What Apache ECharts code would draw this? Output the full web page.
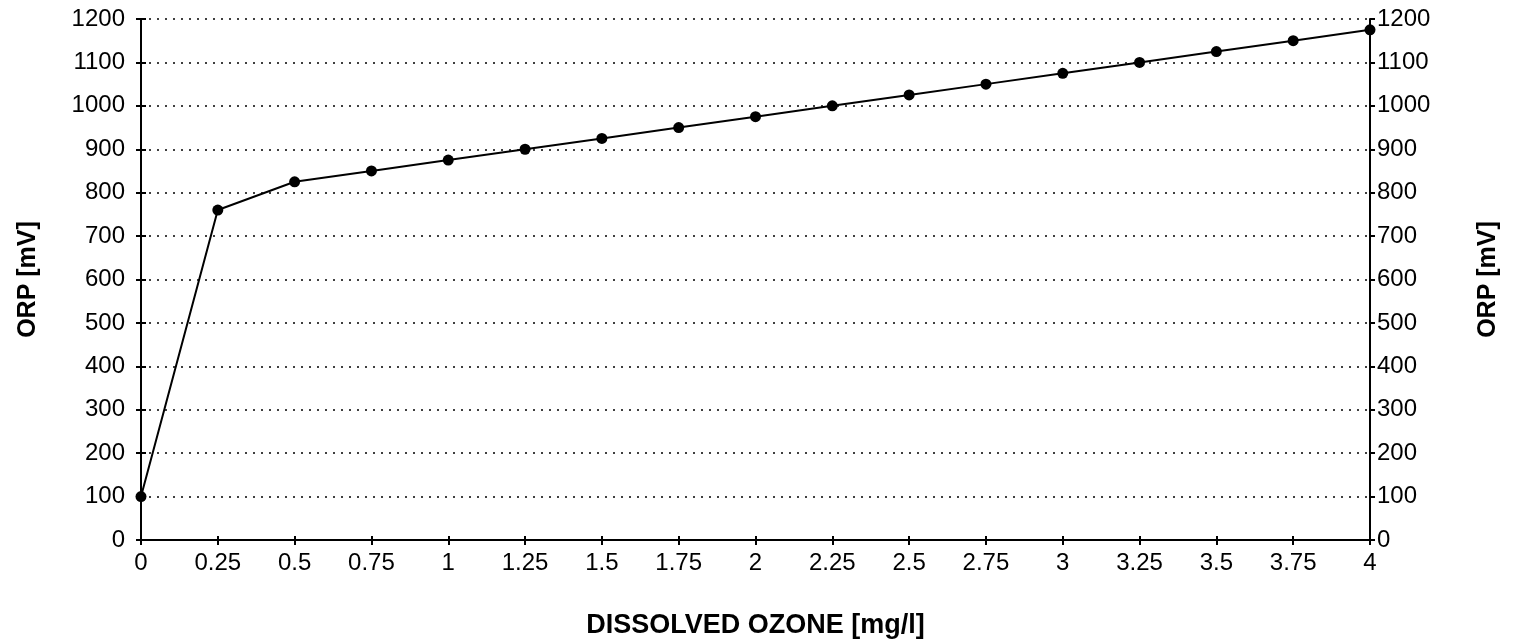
<!DOCTYPE html>
<html>
<head>
<meta charset="utf-8">
<script src="https://cdn.jsdelivr.net/npm/echarts@6/dist/echarts.min.js"></script>
<style>
  html, body { margin: 0; padding: 0; background: #fff; }
  #chart { width: 1520px; height: 640px; }
</style>
</head>
<body>
<div id="chart"></div>
<script>
// Dissolved ozone concentration (mg/l) against oxidation-reduction potential (mV)
const ozone = [0, 0.25, 0.5, 0.75, 1, 1.25, 1.5, 1.75, 2, 2.25, 2.5, 2.75, 3, 3.25, 3.5, 3.75, 4];
const orp = [100, 760, 825, 850, 875, 900, 925, 950, 975, 1000, 1025, 1050, 1075, 1100, 1125, 1150, 1175];
const xName = 'DISSOLVED OZONE [mg/l]';
const yName = 'ORP [mV]';

const points = ozone.map((x, i) => [x, orp[i]]);

const plain = v => String(v);
const tickFont = { fontFamily: 'Liberation Sans, Arial, sans-serif', fontSize: 24, color: '#000', formatter: plain };
const nameFont = { fontFamily: 'Liberation Sans, Arial, sans-serif', fontSize: 25, fontWeight: 'bold', color: '#000' };
const axisLine = { show: true, onZero: false, lineStyle: { color: '#000', width: 2 } };
const gridLine = { show: true, lineStyle: { color: '#000', type: [2, 6], width: 1.5 } };

const chart = echarts.init(document.getElementById('chart'), null, { renderer: 'canvas' });
chart.setOption({
  animation: false,
  backgroundColor: '#fff',
  grid: { left: 141, right: 150, top: 19, bottom: 100, outerBoundsMode: 'none', containLabel: false },
  xAxis: [
    {
      type: 'value', min: 0, max: 4, interval: 0.25, position: 'bottom',
      name: xName, nameLocation: 'middle', nameGap: 72,
      nameTextStyle: Object.assign({}, nameFont, { fontSize: 27 }),
      axisLine: axisLine,
      axisTick: { show: true, length: 5, lineStyle: { color: '#000', width: 2 } },
      axisLabel: Object.assign({}, tickFont, { margin: 11 }),
      splitLine: { show: false }
    },
    {
      // inner half of the crossing tick marks
      type: 'value', min: 0, max: 4, interval: 0.25, position: 'bottom',
      axisLine: { show: false },
      axisTick: { show: true, inside: true, length: 4, lineStyle: { color: '#000', width: 2 } },
      axisLabel: { show: false }, splitLine: { show: false }
    }
  ],
  yAxis: [
    {
      type: 'value', min: 0, max: 1200, interval: 100, position: 'left',
      name: yName, nameLocation: 'middle', nameGap: 100, nameRotate: 90,
      nameTextStyle: nameFont,
      axisLine: axisLine,
      axisTick: { show: true, length: 5, lineStyle: { color: '#000', width: 2 } },
      axisLabel: Object.assign({}, tickFont, { margin: 16 }),
      splitLine: gridLine
    },
    {
      type: 'value', min: 0, max: 1200, interval: 100, position: 'right',
      name: yName, nameLocation: 'middle', nameGap: 106, nameRotate: 90,
      nameTextStyle: nameFont,
      axisLine: axisLine,
      axisTick: { show: true, length: 5, lineStyle: { color: '#000', width: 2 } },
      axisLabel: Object.assign({}, tickFont, { margin: 7 }),
      splitLine: { show: false }
    },
    {
      // inner half of the crossing tick marks on both sides
      type: 'value', min: 0, max: 1200, interval: 100, position: 'left',
      axisLine: { show: false },
      axisTick: { show: true, inside: true, length: 5, lineStyle: { color: '#000', width: 2 } },
      axisLabel: { show: false }, splitLine: { show: false }
    },
    {
      type: 'value', min: 0, max: 1200, interval: 100, position: 'right',
      axisLine: { show: false },
      axisTick: { show: true, inside: true, length: 5, lineStyle: { color: '#000', width: 2 } },
      axisLabel: { show: false }, splitLine: { show: false }
    }
  ],
  series: [{
    type: 'line',
    data: points,
    xAxisIndex: 0,
    yAxisIndex: 0,
    symbol: 'circle',
    symbolSize: 11,
    lineStyle: { color: '#000', width: 2 },
    itemStyle: { color: '#000' },
    clip: false,
    z: 5
  }]
});
</script>
</body>
</html>
